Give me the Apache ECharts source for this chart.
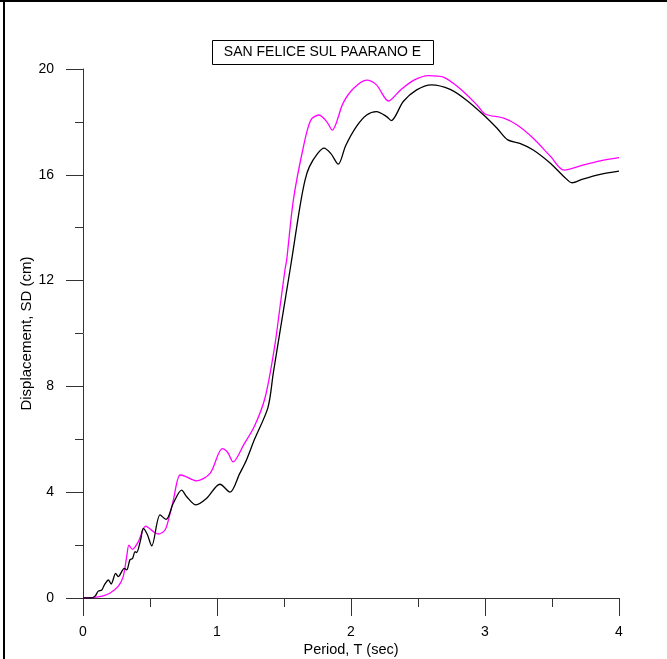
<!DOCTYPE html>
<html>
<head>
<meta charset="utf-8">
<script src="https://cdn.jsdelivr.net/npm/echarts@6/dist/echarts.min.js"></script>
<style>
html,body{margin:0;padding:0;background:#fff;overflow:hidden;}
#chart{width:667px;height:659px;}
</style>
</head>
<body>
<div id="chart"></div>
<script>
// Period T (sec) and displacement SD (cm) for the black curve
var blackT = [0,0.06,0.09,0.114,0.14,0.16,0.19,0.21,0.244,0.263,0.308,0.326,0.35,0.37,0.388,0.40,0.43,0.45,0.48,0.513,0.575,0.62,0.674,0.736,0.774,0.843,0.923,1.022,1.097,1.17,1.22,1.28,1.38,1.42,1.47,1.545,1.557,1.619,1.657,1.689,1.75,1.799,1.85,1.905,1.96,2.04,2.117,2.19,2.266,2.30,2.39,2.49,2.60,2.74,2.86,2.99,3.09,3.17,3.26,3.36,3.49,3.59,3.65,3.73,3.86,4.0];
var blackSD = [0,0,0.07,0.26,0.3,0.5,0.68,0.53,0.93,0.81,1.12,1.06,1.44,1.5,1.75,1.72,2.2,2.63,2.4,1.97,3.14,2.97,3.58,4.08,3.83,3.52,3.77,4.3,4.0,4.71,5.22,6.0,7.2,8.5,10.07,12.4,12.78,14.8,15.8,16.3,16.8,17.01,16.8,16.4,17.1,17.82,18.26,18.39,18.2,18.05,18.77,19.21,19.40,19.23,18.83,18.26,17.76,17.32,17.19,16.94,16.43,15.93,15.70,15.84,16.02,16.14];
// magenta curve
var magT = [0,0.1,0.15,0.2,0.264,0.30,0.326,0.343,0.368,0.413,0.468,0.525,0.562,0.612,0.65,0.674,0.724,0.76,0.848,0.948,1.04,1.08,1.12,1.2,1.28,1.36,1.43,1.47,1.507,1.52,1.57,1.645,1.70,1.76,1.82,1.86,1.94,2.02,2.117,2.19,2.28,2.37,2.47,2.58,2.69,2.81,2.94,3.0,3.14,3.24,3.36,3.49,3.59,3.73,3.86,4.0];
var magSD = [0,0.03,0.08,0.18,0.45,0.81,1.56,2.0,1.84,2.13,2.72,2.51,2.42,2.57,3.2,3.7,4.65,4.61,4.43,4.71,5.65,5.5,5.15,5.8,6.5,7.6,9.5,11.0,12.4,12.78,15.05,17.06,18.07,18.26,18.0,17.69,18.70,19.27,19.58,19.40,18.79,19.21,19.58,19.75,19.69,19.27,18.64,18.3,18.14,17.88,17.38,16.69,16.18,16.37,16.53,16.65];
var xTicks = [0,1,2,3,4];
var yTicks = [0,4,8,12,16,20];
var titleText = 'SAN FELICE SUL PAARANO E';
var xName = 'Period, T (sec)';
var yName = 'Displacement, SD (cm)';

function pairs(a,b){return a.map(function(v,i){return [v,b[i]];});}

var font = 'Liberation Sans, Arial, sans-serif';
var chart = echarts.init(document.getElementById('chart'), null, {renderer:'canvas', width:667, height:659});
chart.setOption({
  animation:false,
  backgroundColor:'#fff',
  grid:{left:83,top:69,width:536,height:529,containLabel:false,outerBoundsMode:'none'},
  xAxis:{
    type:'value',min:xTicks[0],max:xTicks[xTicks.length-1],interval:1,
    name:xName,nameLocation:'middle',nameGap:44,nameMoveOverlap:false,
    nameTextStyle:{fontFamily:font,fontSize:14.5,color:'#000'},
    axisLine:{show:true,onZero:false,lineStyle:{color:'#333',width:1}},
    axisTick:{show:true,inside:false,length:18,lineStyle:{color:'#333'}},
    minorTick:{show:true,splitNumber:2,length:9,lineStyle:{color:'#333'}},
    splitLine:{show:false},
    axisLabel:{margin:27,fontFamily:font,fontSize:14,color:'#000'}
  },
  yAxis:{
    type:'value',min:yTicks[0],max:yTicks[yTicks.length-1],interval:4,
    name:yName,nameLocation:'middle',nameGap:49,nameRotate:90,nameMoveOverlap:false,
    nameTextStyle:{fontFamily:font,fontSize:15,color:'#000'},
    axisLine:{show:true,onZero:false,lineStyle:{color:'#333',width:1}},
    axisTick:{show:true,inside:false,length:17,lineStyle:{color:'#333'}},
    minorTick:{show:true,splitNumber:2,length:8,lineStyle:{color:'#333'}},
    splitLine:{show:false},
    axisLabel:{margin:29,fontFamily:font,fontSize:14,color:'#000'}
  },
  series:[
    {type:'line',data:pairs(magT,magSD),showSymbol:false,smooth:0.3,
     lineStyle:{color:'#ff00ff',width:1.3},z:2},
    {type:'line',data:pairs(blackT,blackSD),showSymbol:false,smooth:0.3,
     lineStyle:{color:'#000',width:1.3},z:3}
  ],
  graphic:[
    {type:'rect',shape:{x:0,y:0,width:667,height:2},style:{fill:'#000'}},
    {type:'rect',shape:{x:3,y:0,width:2,height:659},style:{fill:'#000'}},
    {type:'rect',shape:{x:212.5,y:40.5,width:221,height:24},style:{fill:'#fff',stroke:'#000',lineWidth:1}},
    {type:'text',x:322.5,y:52.5,style:{text:titleText,fontFamily:font,fontSize:14,fill:'#000',textAlign:'center',textVerticalAlign:'middle'}}
  ]
});
</script>
</body>
</html>
